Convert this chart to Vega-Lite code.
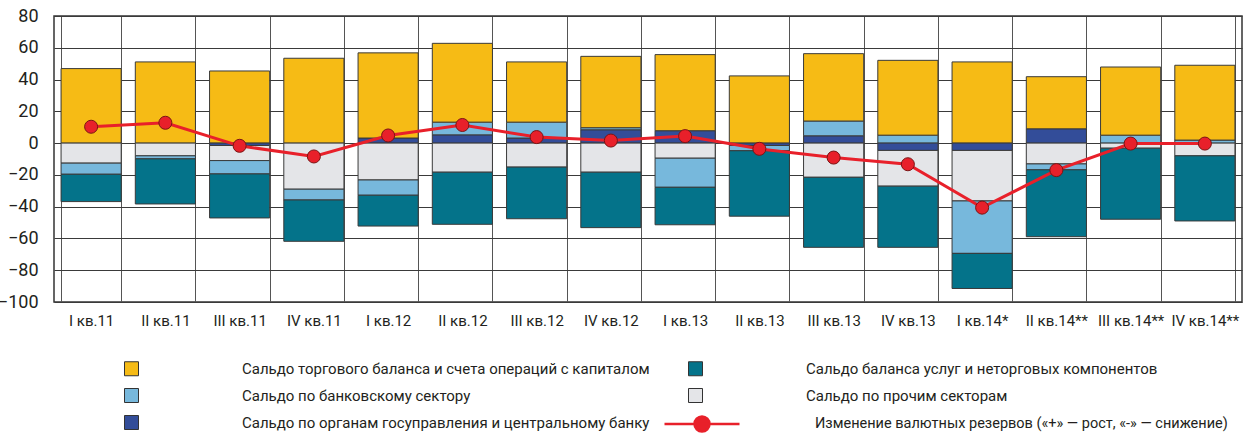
{
  "$schema": "https://vega.github.io/schema/vega-lite/v6.json",
  "width": 1188,
  "height": 286,
  "autosize": {"type": "none"},
  "padding": {"left": 54, "top": 16, "right": 4, "bottom": 132},
  "background": "white",
  "title": {"text": "(млрд. долл. США)", "fontSize": 24, "fontWeight": "bold", "color": "#1d3f91", "anchor": "middle", "frame": "group", "offset": -9, "baseline": "alphabetic", "dx": -23},
  "config": {
    "font": "Roboto, 'Liberation Sans', sans-serif",
    "view": {"stroke": "#333333", "strokeWidth": 1.5},
    "axis": {"labelColor": "#231f20", "title": null, "ticks": false, "domain": false, "grid": true, "gridColor": "#3a3a3a", "gridWidth": 1, "gridOpacity": 1, "labelOverlap": false}
  },
  "datasets": {
    "bars": [
      {"q": "I кв.11", "s": "Сальдо торгового баланса и счета операций с капиталом", "v": 46.9},
      {"q": "I кв.11", "s": "Сальдо по прочим секторам", "v": -12.6},
      {"q": "I кв.11", "s": "Сальдо по банковскому сектору", "v": -7.0},
      {"q": "I кв.11", "s": "Сальдо баланса услуг и неторговых компонентов", "v": -17.2},
      {"q": "II кв.11", "s": "Сальдо торгового баланса и счета операций с капиталом", "v": 51.1},
      {"q": "II кв.11", "s": "Сальдо по прочим секторам", "v": -8.0},
      {"q": "II кв.11", "s": "Сальдо по банковскому сектору", "v": -1.9},
      {"q": "II кв.11", "s": "Сальдо баланса услуг и неторговых компонентов", "v": -28.4},
      {"q": "III кв.11", "s": "Сальдо торгового баланса и счета операций с капиталом", "v": 45.4},
      {"q": "III кв.11", "s": "Сальдо по органам госуправления и центральному банку", "v": -1.5},
      {"q": "III кв.11", "s": "Сальдо по прочим секторам", "v": -9.5},
      {"q": "III кв.11", "s": "Сальдо по банковскому сектору", "v": -8.4},
      {"q": "III кв.11", "s": "Сальдо баланса услуг и неторговых компонентов", "v": -27.7},
      {"q": "IV кв.11", "s": "Сальдо торгового баланса и счета операций с капиталом", "v": 53.4},
      {"q": "IV кв.11", "s": "Сальдо по прочим секторам", "v": -29.0},
      {"q": "IV кв.11", "s": "Сальдо по банковскому сектору", "v": -6.8},
      {"q": "IV кв.11", "s": "Сальдо баланса услуг и неторговых компонентов", "v": -26.0},
      {"q": "I кв.12", "s": "Сальдо по органам госуправления и центральному банку", "v": 3.2},
      {"q": "I кв.12", "s": "Сальдо торгового баланса и счета операций с капиталом", "v": 53.6},
      {"q": "I кв.12", "s": "Сальдо по прочим секторам", "v": -23.2},
      {"q": "I кв.12", "s": "Сальдо по банковскому сектору", "v": -9.6},
      {"q": "I кв.12", "s": "Сальдо баланса услуг и неторговых компонентов", "v": -19.4},
      {"q": "II кв.12", "s": "Сальдо по органам госуправления и центральному банку", "v": 5.2},
      {"q": "II кв.12", "s": "Сальдо по банковскому сектору", "v": 8.0},
      {"q": "II кв.12", "s": "Сальдо торгового баланса и счета операций с капиталом", "v": 49.6},
      {"q": "II кв.12", "s": "Сальдо по прочим секторам", "v": -18.3},
      {"q": "II кв.12", "s": "Сальдо баланса услуг и неторговых компонентов", "v": -32.8},
      {"q": "III кв.12", "s": "Сальдо по органам госуправления и центральному банку", "v": 3.2},
      {"q": "III кв.12", "s": "Сальдо по банковскому сектору", "v": 10.0},
      {"q": "III кв.12", "s": "Сальдо торгового баланса и счета операций с капиталом", "v": 37.9},
      {"q": "III кв.12", "s": "Сальдо по прочим секторам", "v": -15.1},
      {"q": "III кв.12", "s": "Сальдо баланса услуг и неторговых компонентов", "v": -32.5},
      {"q": "IV кв.12", "s": "Сальдо по органам госуправления и центральному банку", "v": 8.4},
      {"q": "IV кв.12", "s": "Сальдо по банковскому сектору", "v": 1.3},
      {"q": "IV кв.12", "s": "Сальдо торгового баланса и счета операций с капиталом", "v": 44.9},
      {"q": "IV кв.12", "s": "Сальдо по прочим секторам", "v": -18.3},
      {"q": "IV кв.12", "s": "Сальдо баланса услуг и неторговых компонентов", "v": -34.9},
      {"q": "I кв.13", "s": "Сальдо по органам госуправления и центральному банку", "v": 7.8},
      {"q": "I кв.13", "s": "Сальдо торгового баланса и счета операций с капиталом", "v": 47.9},
      {"q": "I кв.13", "s": "Сальдо по прочим секторам", "v": -9.5},
      {"q": "I кв.13", "s": "Сальдо по банковскому сектору", "v": -18.3},
      {"q": "I кв.13", "s": "Сальдо баланса услуг и неторговых компонентов", "v": -23.6},
      {"q": "II кв.13", "s": "Сальдо торгового баланса и счета операций с капиталом", "v": 42.3},
      {"q": "II кв.13", "s": "Сальдо по органам госуправления и центральному банку", "v": -1.5},
      {"q": "II кв.13", "s": "Сальдо по банковскому сектору", "v": -3.3},
      {"q": "II кв.13", "s": "Сальдо баланса услуг и неторговых компонентов", "v": -41.2},
      {"q": "III кв.13", "s": "Сальдо по органам госуправления и центральному банку", "v": 4.6},
      {"q": "III кв.13", "s": "Сальдо по банковскому сектору", "v": 9.3},
      {"q": "III кв.13", "s": "Сальдо торгового баланса и счета операций с капиталом", "v": 42.4},
      {"q": "III кв.13", "s": "Сальдо по прочим секторам", "v": -21.5},
      {"q": "III кв.13", "s": "Сальдо баланса услуг и неторговых компонентов", "v": -44.1},
      {"q": "IV кв.13", "s": "Сальдо по банковскому сектору", "v": 5.0},
      {"q": "IV кв.13", "s": "Сальдо торгового баланса и счета операций с капиталом", "v": 47.1},
      {"q": "IV кв.13", "s": "Сальдо по органам госуправления и центральному банку", "v": -4.6},
      {"q": "IV кв.13", "s": "Сальдо по прочим секторам", "v": -22.5},
      {"q": "IV кв.13", "s": "Сальдо баланса услуг и неторговых компонентов", "v": -38.5},
      {"q": "I кв.14*", "s": "Сальдо торгового баланса и счета операций с капиталом", "v": 51.1},
      {"q": "I кв.14*", "s": "Сальдо по органам госуправления и центральному банку", "v": -4.6},
      {"q": "I кв.14*", "s": "Сальдо по прочим секторам", "v": -31.8},
      {"q": "I кв.14*", "s": "Сальдо по банковскому сектору", "v": -33.0},
      {"q": "I кв.14*", "s": "Сальдо баланса услуг и неторговых компонентов", "v": -22.1},
      {"q": "II кв.14**", "s": "Сальдо по органам госуправления и центральному банку", "v": 9.0},
      {"q": "II кв.14**", "s": "Сальдо торгового баланса и счета операций с капиталом", "v": 32.8},
      {"q": "II кв.14**", "s": "Сальдо по прочим секторам", "v": -13.1},
      {"q": "II кв.14**", "s": "Сальдо по банковскому сектору", "v": -3.7},
      {"q": "II кв.14**", "s": "Сальдо баланса услуг и неторговых компонентов", "v": -42.1},
      {"q": "III кв.14**", "s": "Сальдо по банковскому сектору", "v": 5.0},
      {"q": "III кв.14**", "s": "Сальдо торгового баланса и счета операций с капиталом", "v": 42.9},
      {"q": "III кв.14**", "s": "Сальдо по прочим секторам", "v": -3.2},
      {"q": "III кв.14**", "s": "Сальдо баланса услуг и неторговых компонентов", "v": -44.7},
      {"q": "IV кв.14**", "s": "Сальдо по банковскому сектору", "v": 1.9},
      {"q": "IV кв.14**", "s": "Сальдо торгового баланса и счета операций с капиталом", "v": 47.1},
      {"q": "IV кв.14**", "s": "Сальдо по прочим секторам", "v": -8.0},
      {"q": "IV кв.14**", "s": "Сальдо баланса услуг и неторговых компонентов", "v": -41.0}
    ],
    "line": [
      {"q": "I кв.11", "v": 10.3},
      {"q": "II кв.11", "v": 12.8},
      {"q": "III кв.11", "v": -1.7},
      {"q": "IV кв.11", "v": -8.4},
      {"q": "I кв.12", "v": 4.8},
      {"q": "II кв.12", "v": 11.4},
      {"q": "III кв.12", "v": 3.8},
      {"q": "IV кв.12", "v": 1.6},
      {"q": "I кв.13", "v": 4.4},
      {"q": "II кв.13", "v": -3.6},
      {"q": "III кв.13", "v": -9.1},
      {"q": "IV кв.13", "v": -13.3},
      {"q": "I кв.14*", "v": -40.6},
      {"q": "II кв.14**", "v": -17.0},
      {"q": "III кв.14**", "v": -0.3},
      {"q": "IV кв.14**", "v": -0.3}
    ]
  },
  "layer": [
    {
      "data": {"name": "bars"},
      "transform": [
        {"calculate": "datum.s === 'Сальдо по органам госуправления и центральному банку' ? 0 : datum.s === 'Сальдо по прочим секторам' ? 1 : datum.s === 'Сальдо по банковскому сектору' ? 2 : datum.s === 'Сальдо баланса услуг и неторговых компонентов' ? 3 : 4", "as": "o"}
      ],
      "mark": {"type": "bar", "stroke": "#3a3a3a", "strokeWidth": 1},
      "encoding": {
        "x": {
          "field": "q", "type": "nominal", "sort": null,
          "scale": {"paddingInner": 0.19, "paddingOuter": 0.095},
          "axis": {"labelAngle": 0, "labelFontSize": 15, "labelPadding": 11, "tickBand": "extent", "gridColor": "#555555", "labelOverlap": false}
        },
        "y": {
          "field": "v", "type": "quantitative", "stack": "zero",
          "scale": {"domain": [-100, 80], "nice": false},
          "axis": {"values": [-100, -80, -60, -40, -20, 0, 20, 40, 60, 80], "tickCount": 10, "labelFontSize": 18, "labelPadding": 16, "labelOverlap": false, "labelFlush": false}
        },
        "fill": {
          "field": "s", "type": "nominal",
          "scale": {
            "domain": ["Сальдо торгового баланса и счета операций с капиталом", "Сальдо по банковскому сектору", "Сальдо по органам госуправления и центральному банку", "Сальдо баланса услуг и неторговых компонентов", "Сальдо по прочим секторам"],
            "range": ["#f6bb15", "#77b8dc", "#334d99", "#04738a", "#e4e5e8"]
          },
          "legend": {
            "orient": "none", "legendX": 70, "legendY": 345, "columns": 2, "columnPadding": 36, "rowPadding": 8,
            "symbolType": "square", "symbolSize": 196, "symbolStrokeColor": "#333333", "symbolStrokeWidth": 1,
            "labelOffset": 103, "labelFontSize": 15, "labelColor": "#231f20", "labelLimit": 0, "title": null, "padding": 0
          }
        },
        "order": {"field": "o", "type": "quantitative"}
      }
    },
    {
      "data": {"name": "line"},
      "mark": {"type": "line", "strokeWidth": 3},
      "encoding": {
        "x": {"field": "q", "type": "nominal", "sort": null},
        "y": {
          "field": "v", "type": "quantitative",
          "axis": {"values": [-100, -80, -60, -40, -20, 0, 20, 40, 60, 80], "tickCount": 10, "labelFontSize": 18, "labelPadding": 16, "labelOverlap": false, "labelFlush": false}
        },
        "stroke": {
          "datum": "Изменение валютных резервов («+» — рост, «-» — снижение)",
          "scale": {"range": ["#e8202a"]},
          "legend": {
            "orient": "none", "legendX": 609, "legendY": 369, "title": null, "padding": 0,
            "symbolType": "M-1,0L1,0M0.2,0A0.2,0.2,0,1,1,-0.2,0A0.2,0.2,0,1,1,0.2,0Z",
            "symbolSize": 5625, "symbolStrokeWidth": 2.5, "symbolFillColor": "#e8202a", "symbolStrokeColor": "#e8202a",
            "labelOffset": 74, "labelFontSize": 14.5, "labelColor": "#231f20", "labelLimit": 0,
            "encode": {"symbols": {"update": {"fill": {"value": "#e8202a"}}}}
          }
        }
      }
    },
    {
      "data": {"name": "line"},
      "mark": {"type": "point", "filled": true, "fill": "#e8202a", "stroke": "#7a1414", "strokeWidth": 1, "size": 170, "opacity": 1},
      "encoding": {
        "x": {"field": "q", "type": "nominal", "sort": null},
        "y": {
          "field": "v", "type": "quantitative",
          "axis": {"values": [-100, -80, -60, -40, -20, 0, 20, 40, 60, 80], "tickCount": 10, "labelFontSize": 18, "labelPadding": 16, "labelOverlap": false, "labelFlush": false}
        }
      }
    }
  ]
}
